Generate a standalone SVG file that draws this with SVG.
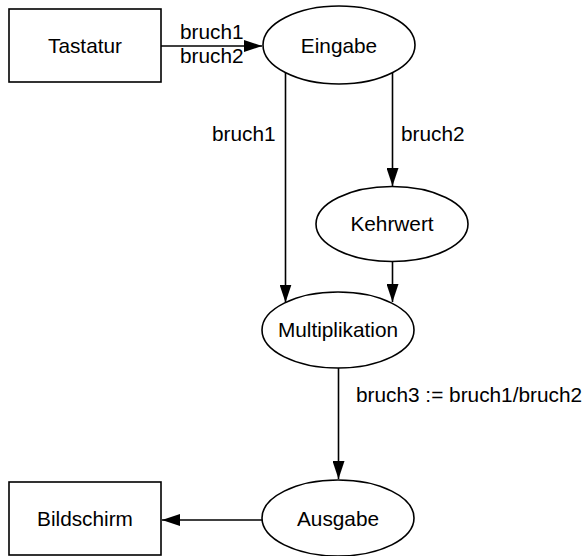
<svg xmlns="http://www.w3.org/2000/svg" width="587" height="556" viewBox="0 0 587 556">
<style>
.n{fill:#fff;stroke:#000;stroke-width:1.6}
.t{font-family:"Liberation Sans",Arial,sans-serif;font-size:20.8px;fill:#000}
.m{text-anchor:middle}
.e{fill:none;stroke:#000;stroke-width:1.6}
</style>
<defs>
<marker id="ah" markerUnits="userSpaceOnUse" markerWidth="18" markerHeight="12" refX="18" refY="6" orient="auto">
<path d="M0,0 L18,6 L0,12 z" fill="#000"/>
</marker>
</defs>
<rect width="587" height="556" fill="#fff"/>
<g id="edges">
<line class="e" x1="161" y1="46" x2="262" y2="46" marker-end="url(#ah)"/>
<text class="t" x="180" y="39">bruch1</text>
<text class="t" x="180" y="63">bruch2</text>
<line class="e" x1="285.5" y1="72.5" x2="285.5" y2="302.5" marker-end="url(#ah)"/>
<text class="t" x="212" y="141">bruch1</text>
<line class="e" x1="392.5" y1="73" x2="392.5" y2="186" marker-end="url(#ah)"/>
<text class="t" x="401" y="141">bruch2</text>
<line class="e" x1="392.5" y1="261.5" x2="392.5" y2="302" marker-end="url(#ah)"/>
<line class="e" x1="338.5" y1="368" x2="338.5" y2="479" marker-end="url(#ah)"/>
<text class="t" x="356" y="402">bruch3 := bruch1/bruch2</text>
<line class="e" x1="262" y1="520" x2="162" y2="520" marker-end="url(#ah)"/>
</g>
<g id="tastatur">
<rect class="n" x="9" y="9" width="152" height="73"/>
<text class="t m" x="85" y="53">Tastatur</text>
</g>
<g id="eingabe">
<ellipse class="n" cx="339" cy="45" rx="76" ry="39"/>
<text class="t m" x="339" y="52.5">Eingabe</text>
</g>
<g id="kehrwert">
<ellipse class="n" cx="392" cy="224" rx="76" ry="37.5"/>
<text class="t m" x="392" y="231">Kehrwert</text>
</g>
<g id="multiplikation">
<ellipse class="n" cx="338" cy="330" rx="76" ry="38"/>
<text class="t m" x="338" y="337">Multiplikation</text>
</g>
<g id="ausgabe">
<ellipse class="n" cx="338" cy="518" rx="76" ry="38"/>
<text class="t m" x="338" y="526">Ausgabe</text>
</g>
<g id="bildschirm">
<rect class="n" x="9" y="482" width="152" height="73"/>
<text class="t m" x="85" y="526">Bildschirm</text>
</g>
</svg>
